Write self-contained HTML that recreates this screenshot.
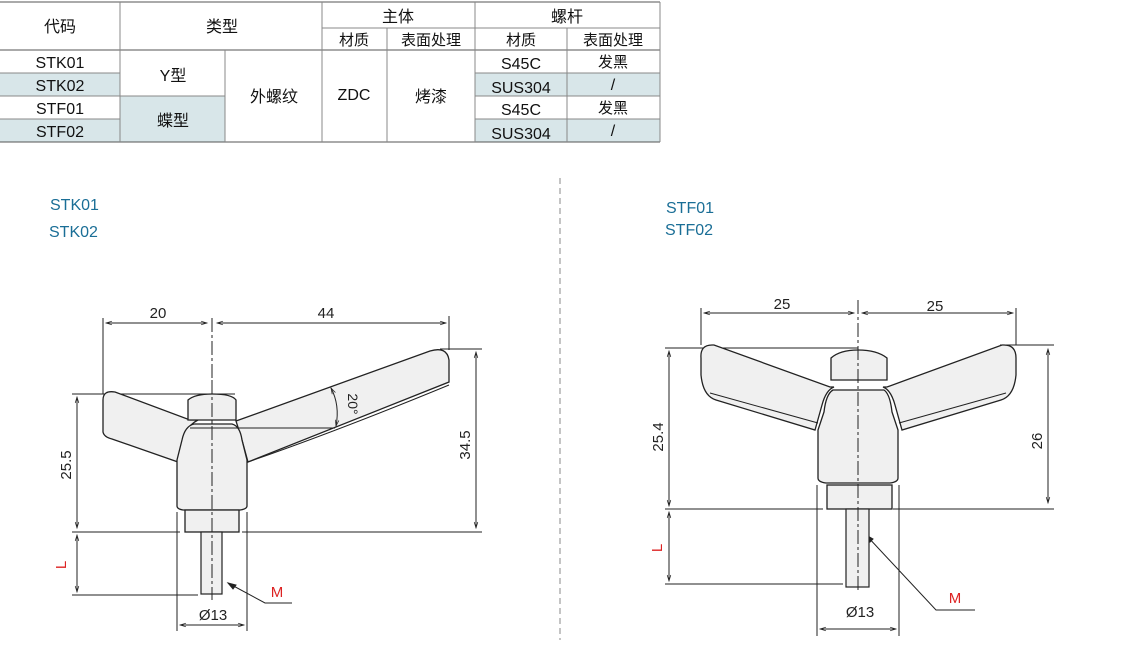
<!DOCTYPE html>
<html><head><meta charset="utf-8"><style>
body{margin:0;width:1145px;height:667px;background:#fff;overflow:hidden;position:relative;font-family:"Liberation Sans","Noto Sans CJK SC",sans-serif;}
svg{position:absolute;left:0;top:0}
</style></head><body>
<svg width="1145" height="667" viewBox="0 0 1145 667" font-family="Liberation Sans, Noto Sans CJK SC, sans-serif">
<!-- table fills -->
<g fill="#d8e6e9">
<rect x="0" y="73" width="120" height="23"/><rect x="0" y="119" width="120" height="23"/>
<rect x="120" y="96" width="105" height="46"/>
<rect x="475" y="73" width="185" height="23"/><rect x="475" y="119" width="185" height="23"/>
</g>
<g stroke="#888" stroke-width="1" fill="none">
<line x1="0" y1="2" x2="660" y2="2" stroke="#555"/>
<line x1="322" y1="28" x2="660" y2="28"/>
<line x1="0" y1="50" x2="660" y2="50" stroke="#555"/>
<line x1="0" y1="73" x2="120" y2="73"/><line x1="475" y1="73" x2="660" y2="73"/>
<line x1="0" y1="96" x2="225" y2="96"/><line x1="475" y1="96" x2="660" y2="96"/>
<line x1="0" y1="119" x2="120" y2="119"/><line x1="475" y1="119" x2="660" y2="119"/>
<line x1="0" y1="142" x2="660" y2="142" stroke="#555"/>
<line x1="120" y1="2" x2="120" y2="142"/><line x1="225" y1="50" x2="225" y2="142"/>
<line x1="322" y1="2" x2="322" y2="142"/><line x1="387" y1="28" x2="387" y2="142"/>
<line x1="475" y1="2" x2="475" y2="142"/><line x1="567" y1="28" x2="567" y2="142"/>
<line x1="660" y1="2" x2="660" y2="142"/>
</g>
<g font-size="16" fill="#111" text-anchor="middle">
<text x="60" y="32">代码</text><text x="222" y="32">类型</text>
<text x="398" y="22">主体</text><text x="567" y="22">螺杆</text>
<text x="354" y="45" font-size="15">材质</text><text x="431" y="45" font-size="15">表面处理</text>
<text x="521" y="45" font-size="15">材质</text><text x="613" y="45" font-size="15">表面处理</text>
<text x="60" y="68">STK01</text><text x="60" y="91">STK02</text>
<text x="60" y="114">STF01</text><text x="60" y="137">STF02</text>
<text x="173" y="81">Y型</text><text x="173" y="126">蝶型</text>
<text x="274" y="102">外螺纹</text><text x="354" y="100">ZDC</text><text x="431" y="102">烤漆</text>
<text x="521" y="69">S45C</text><text x="521" y="93">SUS304</text>
<text x="521" y="115">S45C</text><text x="521" y="139">SUS304</text>
<text x="613" y="67" font-size="15">发黑</text><text x="613" y="90">/</text>
<text x="613" y="113" font-size="15">发黑</text><text x="613" y="136">/</text>
</g>
<!-- labels -->
<g font-size="16" fill="#1a6e96">
<text x="50" y="210">STK01</text><text x="49" y="237">STK02</text>
<text x="666" y="213">STF01</text><text x="665" y="235">STF02</text>
</g>
<line x1="560" y1="178" x2="560" y2="640" stroke="#888" stroke-dasharray="6,4"/>
<defs><marker id="a" viewBox="0 0 10 10" refX="10" refY="5" markerWidth="9" markerHeight="6" orient="auto-start-reverse"><path d="M0,2 L10,5 L0,8" fill="none" stroke="#222" stroke-width="1.2"/></marker></defs>
<!-- LEFT DRAWING -->
<g stroke="#222" stroke-width="1" fill="none">
<line x1="103" y1="318" x2="103" y2="394"/><line x1="449" y1="316" x2="449" y2="350"/>
<line x1="212" y1="318" x2="212" y2="600" stroke-dasharray="14,3,3,3"/>
<line x1="106" y1="323" x2="207" y2="323" marker-start="url(#a)" marker-end="url(#a)"/>
<line x1="217" y1="323" x2="446" y2="323" marker-start="url(#a)" marker-end="url(#a)"/>
<line x1="72" y1="394" x2="235" y2="394"/><line x1="440" y1="349" x2="482" y2="349"/>
<line x1="72" y1="532" x2="180" y2="532"/><line x1="242" y1="532" x2="482" y2="532"/>
<line x1="72" y1="595" x2="198" y2="595"/>
<line x1="77" y1="397" x2="77" y2="528" marker-start="url(#a)" marker-end="url(#a)"/>
<line x1="476" y1="352" x2="476" y2="528" marker-start="url(#a)" marker-end="url(#a)"/>
<line x1="77" y1="535" x2="77" y2="592" marker-start="url(#a)" marker-end="url(#a)"/>
<line x1="177" y1="512" x2="177" y2="631"/><line x1="247" y1="512" x2="247" y2="631"/>
<line x1="180" y1="625" x2="244" y2="625" marker-start="url(#a)" marker-end="url(#a)"/>
<polyline points="228,583 265,603 292,603"/>
<path d="M228,583 l8,2 l-3,4 z" fill="#222"/>
<!-- parts -->
<path d="M115,392 Q103,390 103,400 L103,432 Q104,437 112,439 L178,462 L186,432 Q190,424 198,420 L190,420 Z" fill="#f0f0f0" stroke-width="1.3"/>
<path d="M236,421 L430,351 Q447,346 449,360 L449,382 L248,462 L242,440 Z" fill="#f0f0f0" stroke-width="1.3"/>
<path d="M248,462 Q340,430 449,385" stroke-width="1"/>
<path d="M188,420 L188,400 Q195,394 212,394 Q232,394 236,400 L236,420 Z" fill="#f0f0f0" stroke-width="1.3"/>
<path d="M194,424 L232,424 Q240,426 242,440 L247,460 L247,506 Q247,509 240,510 L183,510 Q177,509 177,506 L177,460 L182,440 Q185,426 194,424 Z" fill="#f0f0f0" stroke-width="1.3"/>
<rect x="185" y="510" width="54" height="22" fill="#f0f0f0" stroke-width="1.3"/>
<rect x="201" y="532" width="21" height="62" fill="#f0f0f0" stroke-width="1.2"/>
<line x1="212" y1="380" x2="212" y2="600" stroke-dasharray="14,3,3,3"/>
<line x1="190" y1="428" x2="335" y2="428"/>
<path d="M331,388 Q340,405 336,426" marker-start="url(#a)" marker-end="url(#a)"/>
</g>
<g font-size="15" fill="#222" text-anchor="middle">
<text x="158" y="318">20</text><text x="326" y="318">44</text>
<text x="71" y="465" transform="rotate(-90 71 465)">25.5</text>
<text x="470" y="445" transform="rotate(-90 470 445)">34.5</text>
<text x="348" y="404" transform="rotate(90 348 404)" font-size="14">20°</text>
<text x="213" y="620">Ø13</text>
<text x="66" y="565" transform="rotate(-90 66 565)" fill="#d22">L</text>
<text x="277" y="597" fill="#d22">M</text>
</g>
<!-- RIGHT DRAWING -->
<g stroke="#222" stroke-width="1" fill="none">
<line x1="701" y1="308" x2="701" y2="345"/><line x1="1016" y1="308" x2="1016" y2="345"/>
<line x1="704" y1="313" x2="854" y2="313" marker-start="url(#a)" marker-end="url(#a)"/>
<line x1="862" y1="313" x2="1013" y2="313" marker-start="url(#a)" marker-end="url(#a)"/>
<line x1="665" y1="348" x2="858" y2="348"/><line x1="1000" y1="345" x2="1054" y2="345"/>
<line x1="665" y1="509" x2="823" y2="509"/><line x1="893" y1="509" x2="1054" y2="509"/>
<line x1="665" y1="584" x2="843" y2="584"/>
<line x1="669" y1="351" x2="669" y2="506" marker-start="url(#a)" marker-end="url(#a)"/>
<line x1="1048" y1="349" x2="1048" y2="503" marker-start="url(#a)" marker-end="url(#a)"/>
<line x1="669" y1="512" x2="669" y2="581" marker-start="url(#a)" marker-end="url(#a)"/>
<line x1="817" y1="485" x2="817" y2="636"/><line x1="899" y1="485" x2="899" y2="636"/>
<line x1="820" y1="629" x2="896" y2="629" marker-start="url(#a)" marker-end="url(#a)"/>
<polyline points="866,535 936,610 975,610"/>
<path d="M866,535 l7,4 l-3,3 z" fill="#222"/>
<path d="M712,345 Q700,345 701,358 L701,375 Q703,396 716,400 L815,430 L822,405 Q826,390 834,387 L830,387 L714,345 Z" fill="#f0f0f0" stroke-width="1.3"/>
<path d="M1004,345 Q1016,345 1016,358 L1016,375 Q1014,396 1001,400 L902,430 L895,405 Q891,390 883,387 L887,387 L1002,345 Z" fill="#f0f0f0" stroke-width="1.3"/>
<path d="M710,393 L818,423 M1006,393 L899,423"/>
<path d="M831,380 L831,358 Q840,350 858,350 Q877,350 887,358 L887,380 Z" fill="#f0f0f0" stroke-width="1.3"/>
<path d="M833,390 L884,390 Q890,394 892,412 L898,430 L898,478 Q898,482 890,483 L826,483 Q818,482 818,478 L818,430 L824,412 Q826,394 833,390 Z" fill="#f0f0f0" stroke-width="1.3"/>
<rect x="827" y="485" width="65" height="24" fill="#f0f0f0" stroke-width="1.3"/>
<rect x="846" y="509" width="23" height="78" fill="#f0f0f0" stroke-width="1.2"/>
<line x1="858" y1="300" x2="858" y2="592" stroke-dasharray="14,3,3,3"/>
</g>
<g font-size="15" fill="#222" text-anchor="middle">
<text x="782" y="309">25</text><text x="935" y="311">25</text>
<text x="663" y="437" transform="rotate(-90 663 437)">25.4</text>
<text x="1042" y="441" transform="rotate(-90 1042 441)">26</text>
<text x="860" y="617">Ø13</text>
<text x="662" y="548" transform="rotate(-90 662 548)" fill="#d22">L</text>
<text x="955" y="603" fill="#d22">M</text>
</g>
</svg>
</body></html>
